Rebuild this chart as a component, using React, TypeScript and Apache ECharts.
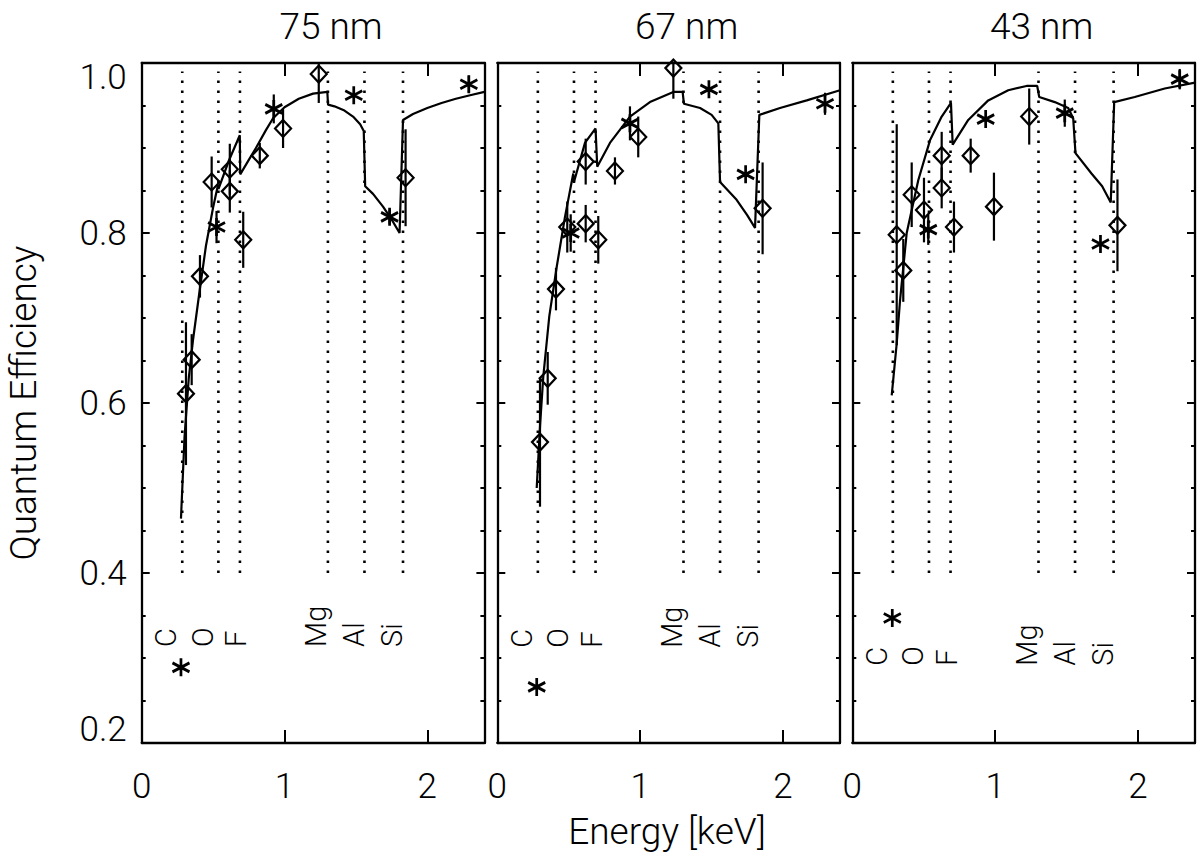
import { useEffect, useRef } from 'react';
import * as echarts from 'echarts';

// panel titles (film thickness)
const PANEL_TITLES = ['75 nm', '67 nm', '43 nm'];

// absorption edges drawn as dotted lines, and their labels
const EDGE_ENERGIES = [0.284, 0.537, 0.688, 1.304, 1.56, 1.83];
const EDGE_NAMES = ['C', 'O', 'F', 'Mg', 'Al', 'Si'];
const EDGE_LABEL_X = [0.17, 0.427, 0.66, 1.22, 1.487, 1.755];
const EDGE_LABEL_Y = [0.313, 0.312, 0.291];
const EDGE_LINE_FROM = 0.4;
const EDGE_LINE_TO = 0.99;

// model curves [keV, QE]
const MODEL_75: [number, number][] = [
  [0.275, 0.464], [0.3, 0.56], [0.33, 0.63], [0.36, 0.675], [0.4, 0.725], [0.45, 0.785],
  [0.5, 0.83], [0.535, 0.857], [0.538, 0.852], [0.61, 0.885], [0.687, 0.915], [0.69, 0.869],
  [0.75, 0.886], [0.8, 0.9], [0.87, 0.921], [0.92, 0.935], [1.0, 0.948], [1.1, 0.958],
  [1.2, 0.964], [1.3, 0.966], [1.305, 0.951], [1.35, 0.949], [1.42, 0.944], [1.48, 0.937],
  [1.53, 0.928], [1.555, 0.92], [1.565, 0.855], [1.62, 0.846], [1.69, 0.831], [1.75, 0.816],
  [1.806, 0.8], [1.83, 0.933], [1.9, 0.94], [2.0, 0.947], [2.1, 0.953], [2.2, 0.958],
  [2.3, 0.962], [2.4, 0.966],
];
const MODEL_67: [number, number][] = [
  [0.276, 0.5], [0.3, 0.575], [0.322, 0.631], [0.364, 0.702], [0.416, 0.76], [0.474, 0.819],
  [0.532, 0.87], [0.537, 0.86], [0.614, 0.906], [0.688, 0.923], [0.7, 0.878], [0.789, 0.906],
  [0.929, 0.937], [1.069, 0.954], [1.233, 0.966], [1.298, 0.966], [1.307, 0.952], [1.42, 0.947],
  [1.501, 0.939], [1.548, 0.929], [1.56, 0.86], [1.676, 0.839], [1.75, 0.821], [1.805, 0.806],
  [1.835, 0.939], [1.98, 0.947], [2.167, 0.956], [2.4, 0.968],
];
const MODEL_43: [number, number][] = [
  [0.276, 0.609], [0.311, 0.67], [0.334, 0.72], [0.381, 0.8], [0.462, 0.862], [0.544, 0.909],
  [0.626, 0.937], [0.691, 0.953], [0.703, 0.904], [0.812, 0.933], [0.952, 0.956], [1.092, 0.968],
  [1.22, 0.973], [1.295, 0.973], [1.309, 0.96], [1.418, 0.954], [1.512, 0.947], [1.547, 0.935],
  [1.563, 0.894], [1.675, 0.87], [1.75, 0.855], [1.81, 0.836], [1.834, 0.954], [1.978, 0.96],
  [2.188, 0.97], [2.4, 0.977],
];

// measurements [keV, QE, error]
const DIAMONDS_75: [number, number, number][] = [
  [0.31, 0.611, 0.084], [0.35, 0.651, 0.03], [0.408, 0.749, 0.025], [0.49, 0.86, 0.03],
  [0.617, 0.875, 0.03], [0.617, 0.849, 0.025], [0.711, 0.792, 0.033], [0.827, 0.891, 0.015],
  [0.99, 0.923, 0.023], [1.24, 0.987, 0.034], [1.848, 0.865, 0.057],
];
const STARS_75: [number, number, number][] = [
  [0.275, 0.289, 0], [0.524, 0.807, 0.019], [0.925, 0.946, 0.017], [1.485, 0.962, 0],
  [1.736, 0.819, 0.008], [2.291, 0.975, 0.01],
];
const DIAMONDS_67: [number, number, number][] = [
  [0.299, 0.554, 0.076], [0.353, 0.629, 0.031], [0.411, 0.734, 0.025], [0.49, 0.807, 0.03],
  [0.619, 0.811, 0.022], [0.619, 0.884, 0.027], [0.707, 0.792, 0.028], [0.824, 0.873, 0.016],
  [0.987, 0.913, 0.024], [1.233, 0.994, 0.036], [1.858, 0.829, 0.054],
];
const STARS_67: [number, number, number][] = [
  [0.276, 0.266, 0], [0.514, 0.8, 0.022], [0.929, 0.929, 0.02], [1.482, 0.969, 0],
  [1.739, 0.869, 0], [2.295, 0.952, 0.013],
];
const DIAMONDS_43: [number, number, number][] = [
  [0.311, 0.798, 0.13], [0.357, 0.756, 0.037], [0.416, 0.845, 0.038], [0.502, 0.827, 0.038],
  [0.626, 0.891, 0.028], [0.626, 0.853, 0.024], [0.712, 0.807, 0.03], [0.829, 0.891, 0.02],
  [0.992, 0.831, 0.04], [1.239, 0.937, 0.033], [1.857, 0.809, 0.054],
];
const STARS_43: [number, number, number][] = [
  [0.28, 0.347, 0], [0.532, 0.804, 0.018], [0.934, 0.934, 0], [1.488, 0.941, 0.016],
  [1.738, 0.787, 0], [2.293, 0.981, 0.012],
];

const MODELS = [MODEL_75, MODEL_67, MODEL_43];
const DIAMONDS = [DIAMONDS_75, DIAMONDS_67, DIAMONDS_43];
const STARS = [STARS_75, STARS_67, STARS_43];

const GRID_LEFT = [141.7, 497.3, 852.3];
const GRID_WIDTH = 342.7;
const GRID_TOP = 63;
const GRID_HEIGHT = 680;

const FONT = 'Roboto';
const INK = '#000';
const STAR = 'path://M0,-10L0,10M-8.66,-5L8.66,5M-8.66,5L8.66,-5';

const lineStyle = { color: INK, width: 2.3 };
const tickStyle = { color: INK, width: 2 };

function errorBars(points: [number, number, number][]) {
  return points.filter(p => p[2] > 0).map(p => [p[0], p[1] - p[2], p[1] + p[2]]);
}

function yLabel(v: number) {
  if (Math.abs(v - 1) < 1e-6) return '{t|1.0}';
  if (Math.abs(v - 0.2) < 1e-6) return '{b|0.2}';
  return v.toFixed(1);
}

function textEl(text: string, x: number, y: number, size: number, rotation = 0, align = 'center') {
  return {
    type: 'text',
    x,
    y,
    rotation,
    silent: true,
    style: { text, fill: INK, fontSize: size, fontFamily: FONT, fontWeight: 300, align, verticalAlign: 'middle' },
  };
}

export default function App() {
  const chartRef = useRef<HTMLDivElement>(null);

  useEffect(() => {
    if (!chartRef.current) return;
    const chart = echarts.init(chartRef.current, null, { renderer: 'svg' });

    const labelFont = { color: INK, fontSize: 35, fontFamily: FONT, fontWeight: 300 };

    const xAxis: any[] = [];
    const yAxis: any[] = [];
    const series: any[] = [];

    PANEL_TITLES.forEach((_, i) => {
      ['bottom', 'top'].forEach(pos => {
        xAxis.push({
          type: 'value',
          gridIndex: i,
          position: pos,
          min: 0,
          max: 2.4,
          interval: 1,
          axisLine: { show: true, onZero: false, lineStyle },
          axisTick: { show: true, inside: true, length: 13, lineStyle: tickStyle },
          axisLabel: {
            show: pos === 'bottom',
            margin: 26,
            showMaxLabel: false,
            formatter: (v: number) => (Number.isInteger(v) ? String(v) : ''),
            ...labelFont,
          },
          splitLine: { show: false },
        });
      });
      ['left', 'right'].forEach(pos => {
        yAxis.push({
          type: 'value',
          gridIndex: i,
          position: pos,
          min: 0.2,
          max: 1.0,
          interval: 0.2,
          axisLine: { show: true, onZero: false, lineStyle },
          axisTick: { show: true, inside: true, length: 8, lineStyle: tickStyle },
          minorTick: { show: true, splitNumber: 4, length: 4, lineStyle: tickStyle },
          axisLabel: {
            show: i === 0 && pos === 'left',
            margin: 15,
            formatter: yLabel,
            ...labelFont,
            rich: {
              t: { ...labelFont, padding: [28, 0, 0, 0] },
              b: { ...labelFont, padding: [0, 0, 28, 0] },
            },
          },
          splitLine: { show: false },
          minorSplitLine: { show: false },
        });
      });

      const xi = i * 2;
      const yi = i * 2;

      series.push({
        type: 'custom',
        xAxisIndex: xi,
        yAxisIndex: yi,
        silent: true,
        z: 1,
        data: EDGE_ENERGIES.map(e => [e, EDGE_LINE_FROM, EDGE_LINE_TO]),
        renderItem: (_p: any, api: any) => {
          const a = api.coord([api.value(0), api.value(1)]);
          const b = api.coord([api.value(0), api.value(2)]);
          return {
            type: 'line',
            shape: { x1: a[0], y1: a[1], x2: b[0], y2: b[1] },
            style: { stroke: INK, lineWidth: 2.6, lineDash: [2.6, 7.4] },
          };
        },
      });

      series.push({
        type: 'line',
        xAxisIndex: xi,
        yAxisIndex: yi,
        silent: true,
        z: 2,
        data: MODELS[i],
        showSymbol: false,
        lineStyle: { color: INK, width: 2.2 },
      });

      series.push({
        type: 'custom',
        xAxisIndex: xi,
        yAxisIndex: yi,
        silent: true,
        clip: true,
        z: 3,
        data: [...errorBars(DIAMONDS[i]), ...errorBars(STARS[i])],
        renderItem: (_p: any, api: any) => {
          const a = api.coord([api.value(0), api.value(1)]);
          const b = api.coord([api.value(0), api.value(2)]);
          return {
            type: 'line',
            shape: { x1: a[0], y1: a[1], x2: b[0], y2: b[1] },
            style: { stroke: INK, lineWidth: 2.2 },
          };
        },
      });

      series.push({
        type: 'scatter',
        xAxisIndex: xi,
        yAxisIndex: yi,
        silent: true,
        z: 4,
        data: DIAMONDS[i].map(p => [p[0], p[1]]),
        symbol: 'diamond',
        symbolSize: [16, 17],
        itemStyle: { color: 'rgba(0,0,0,0)', borderColor: INK, borderWidth: 2.2, opacity: 1 },
      });

      series.push({
        type: 'scatter',
        xAxisIndex: xi,
        yAxisIndex: yi,
        silent: true,
        z: 4,
        data: STARS[i].map(p => [p[0], p[1]]),
        symbol: STAR,
        symbolSize: [17, 18],
        itemStyle: { color: INK, borderColor: INK, borderWidth: 2.8, opacity: 1 },
      });
    });

    const fixedText = [
      ...PANEL_TITLES.map((t, i) => textEl(t, GRID_LEFT[i] + GRID_WIDTH / 2 + 18, 26, 37)),
      textEl('Energy [keV]', 667, 831, 37),
      textEl('Quantum Efficiency', 23.5, 403, 37, Math.PI / 2),
    ];

    const option: echarts.EChartsOption = {
      animation: false,
      backgroundColor: '#fff',
      grid: GRID_LEFT.map(left => ({
        left,
        top: GRID_TOP,
        width: GRID_WIDTH,
        height: GRID_HEIGHT,
      })),
      xAxis,
      yAxis,
      series,
      graphic: fixedText as any,
    };

    chart.setOption(option);

    // edge labels placed in data coordinates of each panel
    const edgeText: any[] = [];
    PANEL_TITLES.forEach((_, i) => {
      EDGE_NAMES.forEach((name, k) => {
        const p = chart.convertToPixel({ gridIndex: i } as any, [EDGE_LABEL_X[k], EDGE_LABEL_Y[i]]) as number[];
        edgeText.push(textEl(name, p[0], p[1], 29, Math.PI / 2, 'left'));
      });
    });
    chart.setOption({ graphic: [...fixedText, ...edgeText] as any });

    return () => {
      chart.dispose();
    };
  }, []);

  return (
    <div
      ref={chartRef}
      style={{ position: 'absolute', left: 0, top: 0, width: 1200, height: 862 }}
    />
  );
}
